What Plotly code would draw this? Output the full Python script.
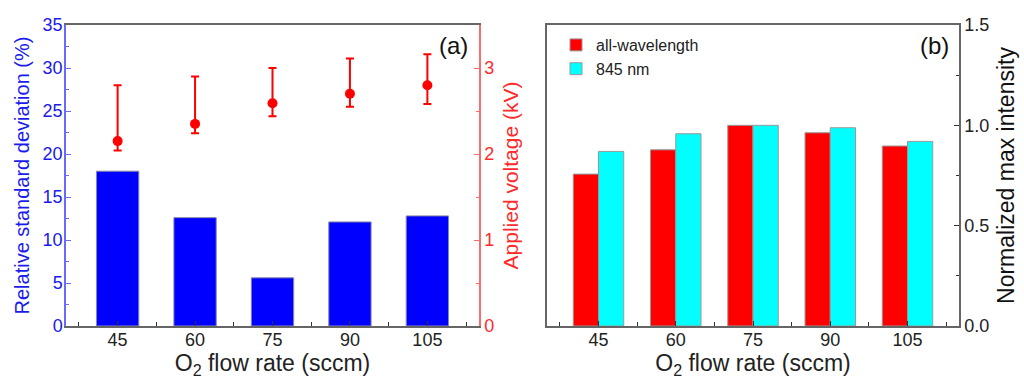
import plotly.graph_objects as go

# ---- data ----
flow = [45, 60, 75, 90, 105]
tick_labels = ["45", "60", "75", "90", "105"]
rsd = [18.0, 12.6, 5.6, 12.1, 12.8]              # Relative standard deviation (%)
voltage = [2.15, 2.35, 2.59, 2.70, 2.80]          # Applied voltage (kV)
volt_err_plus = [0.65, 0.55, 0.41, 0.41, 0.36]
volt_err_minus = [0.11, 0.11, 0.15, 0.15, 0.22]
all_wavelength = [0.757, 0.878, 1.0, 0.963, 0.897]
nm845 = [0.870, 0.958, 1.0, 0.988, 0.920]

FONT = "Arial, Liberation Sans, sans-serif"
BLUE = "#0000ff"
BLUE_TXT = "#1a1aee"
BLUE_LINE = "#6a6aff"
RED = "#ff0000"
RED_TXT = "#ff2a2a"
RED_LINE = "#ff6a6a"
GRAY = "#666666"

W, H = 1024, 383
ML, MR, MT, MB = 66, 65, 25, 57
PW = W - ML - MR

fig = go.Figure()

# (a) bars
fig.add_trace(go.Bar(x=flow, y=rsd, width=8.2, marker=dict(color=BLUE, line=dict(color="#8888aa", width=1)),
                     showlegend=False, xaxis="x", yaxis="y", name="RSD"))
# (a) voltage with asymmetric error bars
fig.add_trace(go.Scatter(x=flow, y=voltage, mode="markers",
                         marker=dict(color=RED, size=10),
                         error_y=dict(type="data", symmetric=False, array=volt_err_plus,
                                      arrayminus=volt_err_minus, color=RED, thickness=2, width=4),
                         showlegend=False, xaxis="x", yaxis="y2", name="Applied voltage"))
# (b) grouped bars
fig.add_trace(go.Bar(x=flow, y=all_wavelength, width=4.9, offset=-4.9, name="all-wavelength",
                     marker=dict(color=RED, line=dict(color="#999999", width=1)),
                     xaxis="x3", yaxis="y3"))
fig.add_trace(go.Bar(x=flow, y=nm845, width=4.9, offset=0, name="845 nm",
                     marker=dict(color="#00ffff", line=dict(color="#999999", width=1)),
                     xaxis="x3", yaxis="y3"))

xa_common = dict(range=[35, 115], tickvals=flow, ticktext=tick_labels, ticks="inside", ticklen=5,
                 tickcolor="#333333", showline=True, linecolor=GRAY, linewidth=1.5, mirror=True,
                 showgrid=False, zeroline=False, tickfont=dict(size=18, color="#222222", family=FONT),
                 ticklabelstandoff=-3, automargin=True,
                 minor=dict(tickvals=[37.5, 52.5, 67.5, 82.5, 97.5, 112.5], ticks="inside", ticklen=4,
                            tickcolor="#333333"),
                 title=dict(text="O<sub>2</sub> flow rate (sccm)", font=dict(size=23, color="#222222", family=FONT),
                            standoff=6))

fig.update_layout(
    width=W, height=H, autosize=False,
    margin=dict(l=ML, r=MR, t=MT, b=MB, autoexpand=False),
    paper_bgcolor="white", plot_bgcolor="white",
    font=dict(family=FONT),
    barmode="overlay",
    xaxis=dict(domain=[0, (479 - ML) / PW], anchor="y", **xa_common),
    yaxis=dict(domain=[0, 1], anchor="x", range=[0, 35], dtick=5, ticks="inside", ticklen=5,
               tickcolor=BLUE_LINE, showline=True, linecolor=BLUE_LINE, linewidth=1.5,
               showgrid=False, zeroline=False, tickfont=dict(size=18, color=BLUE_TXT, family=FONT),
               ticklabelstandoff=-2, automargin=True,
               minor=dict(dtick=2.5, ticks="inside", ticklen=3, tickcolor=BLUE_LINE),
               title=dict(text="Relative standard deviation (%)", font=dict(size=20, color=BLUE_TXT, family=FONT),
                          standoff=8)),
    yaxis2=dict(overlaying="y", anchor="x", side="right", range=[0, 3.5], dtick=1, ticks="inside", ticklen=5,
                tickcolor=RED_LINE, showline=True, linecolor=RED_LINE, linewidth=1.5,
                showgrid=False, zeroline=False, tickfont=dict(size=18, color=RED_TXT, family=FONT),
                ticklabelstandoff=0, automargin=True,
                minor=dict(dtick=0.5, ticks="inside", ticklen=3, tickcolor=RED_LINE),
                title=dict(text="Applied voltage (kV)", font=dict(size=21, color=RED_TXT, family=FONT),
                           standoff=10)),
    xaxis3=dict(domain=[(547 - ML) / PW, 1], anchor="y3", **xa_common),
    yaxis3=dict(domain=[0, 1], anchor="x3", side="right", range=[0, 1.5], tickvals=[0, 0.5, 1.0, 1.5],
                ticktext=["0.0", "0.5", "1.0", "1.5"], ticks="inside", ticklen=5, tickcolor="#333333",
                showline=True, linecolor=GRAY, linewidth=1.5, mirror=True,
                showgrid=False, zeroline=False, tickfont=dict(size=18, color="#222222", family=FONT),
                ticklabelstandoff=0, automargin=True,
                minor=dict(dtick=0.25, ticks="inside", ticklen=3, tickcolor="#333333"),
                title=dict(text="Normalized max intensity", font=dict(size=23, color="#111111", family=FONT),
                           standoff=10)),
    legend=dict(x=556 / W, y=(H - 28) / H, xref="paper", yref="paper", xanchor="left", yanchor="top",
                bgcolor="rgba(0,0,0,0)", font=dict(size=16, color="#222222", family=FONT),
                itemwidth=30, tracegroupgap=0),
    annotations=[
        dict(text="(a)", x=470, y=H - 45, xref="paper", yref="paper",
             xanchor="right", yanchor="middle", showarrow=False, font=dict(size=24, color="#111111", family=FONT)),
        dict(text="(b)", x=951, y=H - 45, xref="paper", yref="paper",
             xanchor="right", yanchor="middle", showarrow=False, font=dict(size=24, color="#111111", family=FONT)),
    ],
)

# convert pixel positions of annotations / legend to paper fractions (paper = plot area)
for ann in fig.layout.annotations:
    ann.x = (ann.x - ML) / PW
    ann.y = (ann.y - MB) / (H - MT - MB)
fig.layout.legend.x = (556 - ML) / PW
fig.layout.legend.y = (H - 28 - MB) / (H - MT - MB)

fig.write_html("out.html", config={"displayModeBar": False},
               post_script="document.body.style.margin='0px';")
